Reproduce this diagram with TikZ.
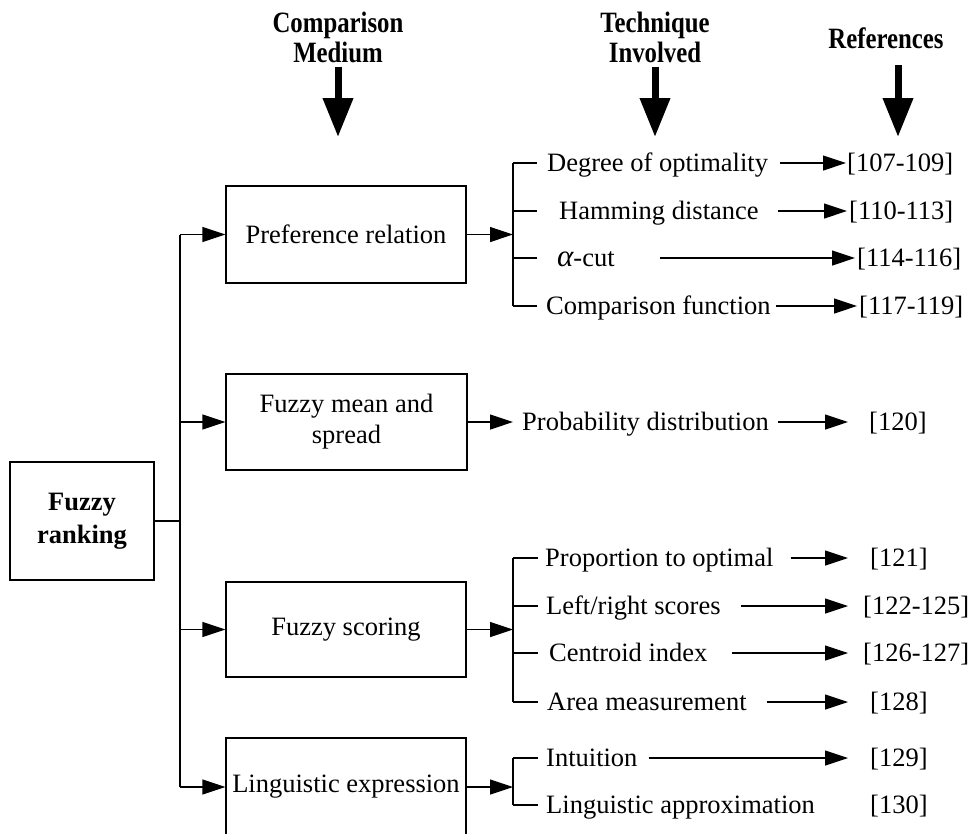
\documentclass[tikz,border=0pt]{standalone}
\usepackage{fontspec}
\setmainfont{Liberation Serif}
\newfontfamily\headfont[FakeStretch=0.84]{Liberation Serif}
\usetikzlibrary{arrows.meta}

\tikzset{
  lbl/.style={font=\fontsize{26.5}{31}\selectfont, inner sep=0pt},
  box/.style={lbl, draw, line width=1.2pt, align=center},
  tech/.style={lbl, anchor=west, text height=17pt, text depth=1pt},
  ref/.style={tech},
  head/.style={font=\headfont\bfseries\fontsize{29.5}{30}\selectfont, inner sep=0pt, align=center},
  link/.style={line width=1.2pt},
  arr/.style={link, -{Triangle[length=23pt,width=15pt]}},
  bigarr/.style={line width=7pt, -{Triangle[length=39pt,width=29pt]}},
}

\begin{document}
\begin{tikzpicture}[x=1pt,y=-1pt]
\clip (0,0) rectangle (969,833);
\useasboundingbox (0,0) rectangle (969,833);

% column headers with their downward arrows
\node[head] (h1) at (338,37) {Comparison\\Medium};
\node[head] (h2) at (655,37) {Technique\\Involved};
\node[head] (h3) at (886,38) {References};
\coordinate (a1) at (338,137);
\coordinate (a2) at (655,137);
\coordinate (a3) at (898,137);
\draw[bigarr] (a1 |- h1.south) ++(0,4) -- (a1);
\draw[bigarr] (a2 |- h1.south) ++(0,4) -- (a2);
\draw[bigarr] (898,65) -- (a3);

% root and comparison media
\node[box, font=\bfseries\fontsize{26.5}{33}\selectfont, minimum width=144pt, minimum height=118pt] (fr) at (82,521) {Fuzzy\\ranking};
\node[box, minimum width=240pt, minimum height=97pt] (pr) at (346,234.5) {Preference relation};
\node[box, minimum width=241pt, minimum height=96pt] (fm) at (346.5,422) {Fuzzy mean and\\spread};
\node[box, minimum width=240pt, minimum height=95pt] (fs) at (346,629.5) {Fuzzy scoring};
\node[box, minimum width=240pt, minimum height=98pt] (le) at (346,787) {Linguistic expression};

% trunk from the root to the media
\coordinate (tj) at (180,521);
\draw[link] (fr.east) -- (tj);
\draw[link] (tj |- pr.west) -- (tj |- le.west);
\draw[arr] (tj |- pr.west) -- (pr.west);
\draw[arr] (tj |- fm.west) -- (fm.west);
\draw[arr] (tj |- fs.west) -- (fs.west);
\draw[arr] (tj |- le.west) -- (le.west);

% bracket column and arrow tip column
\coordinate (bx) at (513,0);
\coordinate (tipS) at (848,0);

% preference relation techniques
\node[tech] (d1) at (547,163) {Degree of optimality};
\node[tech] (d2) at (559,211) {Hamming distance};
\node[tech] (d3) at (557,258) {{\fontsize{31}{31}\selectfont\itshape α}-cut};
\node[tech] (d4) at (546,306) {Comparison function};
\node[ref] (r1) at (847,163) {[107-109]};
\node[ref] (r2) at (849,211) {[110-113]};
\node[ref] (r3) at (857,258) {[114-116]};
\node[ref] (r4) at (859,306) {[117-119]};
\draw[arr] (pr.east) -- (pr.east -| bx);
\draw[link] (d1.west -| bx) -- (d4.west -| bx);
\foreach \n in {d1,d2,d3,d4} \draw[link] (\n.west -| bx) -- ++(24,0);
\draw[arr, shorten >=1pt] ([xshift=12pt]d1.east) -- (r1.west);
\draw[arr, shorten >=2pt] ([xshift=19pt]d2.east) -- (r2.west);
\draw[arr, shorten >=2pt] ([xshift=45pt]d3.east) -- (r3.west);
\draw[arr, shorten >=2pt] ([xshift=5pt]d4.east) -- (r4.west);

% fuzzy mean and spread
\node[tech] (pd) at (522,422) {Probability distribution};
\node[ref] (r5) at (869,422) {[120]};
\draw[arr] (fm.east) -- (fm.east -| bx);
\draw[arr] ([xshift=9pt]pd.east) -- (pd.west -| tipS);

% fuzzy scoring techniques
\node[tech] (s1) at (545,558) {Proportion to optimal};
\node[tech] (s2) at (546,606) {Left/right scores};
\node[tech] (s3) at (549,653) {Centroid index};
\node[tech] (s4) at (547,702) {Area measurement};
\node[ref] (r6) at (870,558) {[121]};
\node[ref] (r7) at (863,606) {[122-125]};
\node[ref] (r8) at (863,653) {[126-127]};
\node[ref] (r9) at (870,702) {[128]};
\draw[arr] (fs.east) -- (fs.east -| bx);
\draw[link] (s1.west -| bx) -- (s4.west -| bx);
\foreach \n in {s1,s2,s3,s4} \draw[link] (\n.west -| bx) -- ++(25,0);
\draw[arr] ([xshift=17pt]s1.east) -- (s1.west -| tipS);
\draw[arr] ([xshift=20pt]s2.east) -- (s2.west -| tipS);
\draw[arr] ([xshift=24pt]s3.east) -- (s3.west -| tipS);
\draw[arr] ([xshift=20pt]s4.east) -- (s4.west -| tipS);

% linguistic expression techniques
\node[tech] (l1) at (546,758) {Intuition};
\node[tech] (l2) at (546,805) {Linguistic approximation};
\node[ref] (r10) at (870,758) {[129]};
\node[ref] (r11) at (870,805) {[130]};
\draw[arr] (le.east) -- (le.east -| bx);
\draw[link] (l1.west -| bx) -- (l2.west -| bx);
\foreach \n in {l1,l2} \draw[link] (\n.west -| bx) -- ++(25,0);
\draw[arr] ([xshift=11pt]l1.east) -- (l1.west -| tipS);
\end{tikzpicture}
\end{document}
